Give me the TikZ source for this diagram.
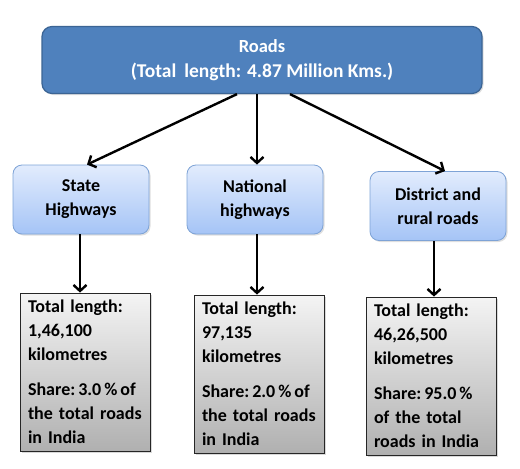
\documentclass[tikz,border=0pt]{standalone}
\usepackage{fontspec}
\setmainfont{Carlito}
\usetikzlibrary{arrows.meta,shadows}
\definecolor{topfill}{HTML}{4F81BD}
\definecolor{topline}{HTML}{3B6494}
\definecolor{midtop}{HTML}{E2ECFD}
\definecolor{midbot}{HTML}{A5C4F6}
\definecolor{midline}{HTML}{7EA3D6}
\definecolor{bottop}{HTML}{F4F4F4}
\definecolor{botbot}{HTML}{B0B0B0}
\begin{document}
\begin{tikzpicture}[x=1pt,y=-1pt,
  txt/.style={font=\fontsize{18}{24}\selectfont\bfseries},
  topbox/.style={font=\fontsize{19.5}{25}\selectfont\bfseries,draw=topline,line width=1.2pt,fill=topfill,text=white,rounded corners=10pt,
    minimum width=440pt,minimum height=67pt,align=center,inner sep=0pt,
    drop shadow={opacity=0.25,shadow xshift=1.5pt,shadow yshift=-1.5pt}},
  midbox/.style={txt,draw=midline,line width=0.8pt,top color=midtop,bottom color=midbot,rounded corners=9pt,
    minimum width=136pt,minimum height=69pt,align=center,inner sep=0pt,
    drop shadow={opacity=0.25,shadow xshift=1.5pt,shadow yshift=-1.5pt}},
  botbox/.style={txt,draw=black!85,line width=0.8pt,top color=bottop,bottom color=botbot,
    minimum width=130pt,minimum height=158pt,text width=114pt,align=left,inner sep=0pt,
    drop shadow={opacity=0.3,shadow xshift=1.5pt,shadow yshift=-1.5pt}},
  arr/.style={line width=2.4pt,-{Straight Barb[length=6pt,width=13pt,line width=2.4pt]}}
]
\useasboundingbox (0,0) rectangle (520,469);
\node[topbox] (roads) at (262,60) {{\fontsize{18.5}{25}\selectfont Roads}\\(Total\hspace{8pt}length: 4.87 Million Kms.)};
\node[midbox] (state) at (81,199.5) {State\\Highways};
\node[midbox] (national) at (255,199.5) {National\\highways};
\node[midbox] (district) at (438,206) {District and\\rural roads};
\node[botbox] (b1) at (85,372) {Total length:\\1,46,100\\kilometres\\[11pt]Share:\,3.0\,\%\,of\\the total roads\\in India};
\node[botbox] (b2) at (259,374) {Total length:\\97,135\\kilometres\\[11pt]Share:\,2.0\,\%\,of\\the total roads\\in India};
\node[botbox] (b3) at (431,376) {Total length:\\46,26,500\\kilometres\\[11pt]Share:\,95.0\,\%\\of the total\\roads in India};
\draw[arr] ([xshift=-25pt]roads.south) -- ([xshift=6pt]state.north);
\draw[arr] ([xshift=-5pt]roads.south) -- ([xshift=2pt]national.north);
\draw[arr] ([xshift=28pt]roads.south) -- ([xshift=7pt]district.north);
\draw[arr] ([xshift=-1pt]state.south) -- ([xshift=-1pt]state.south |- b1.north);
\draw[arr] ([xshift=2pt]national.south) -- ([xshift=2pt]national.south |- b2.north);
\draw[arr] ([xshift=-4pt]district.south) -- ([xshift=-4pt]district.south |- b3.north);
\end{tikzpicture}
\end{document}
